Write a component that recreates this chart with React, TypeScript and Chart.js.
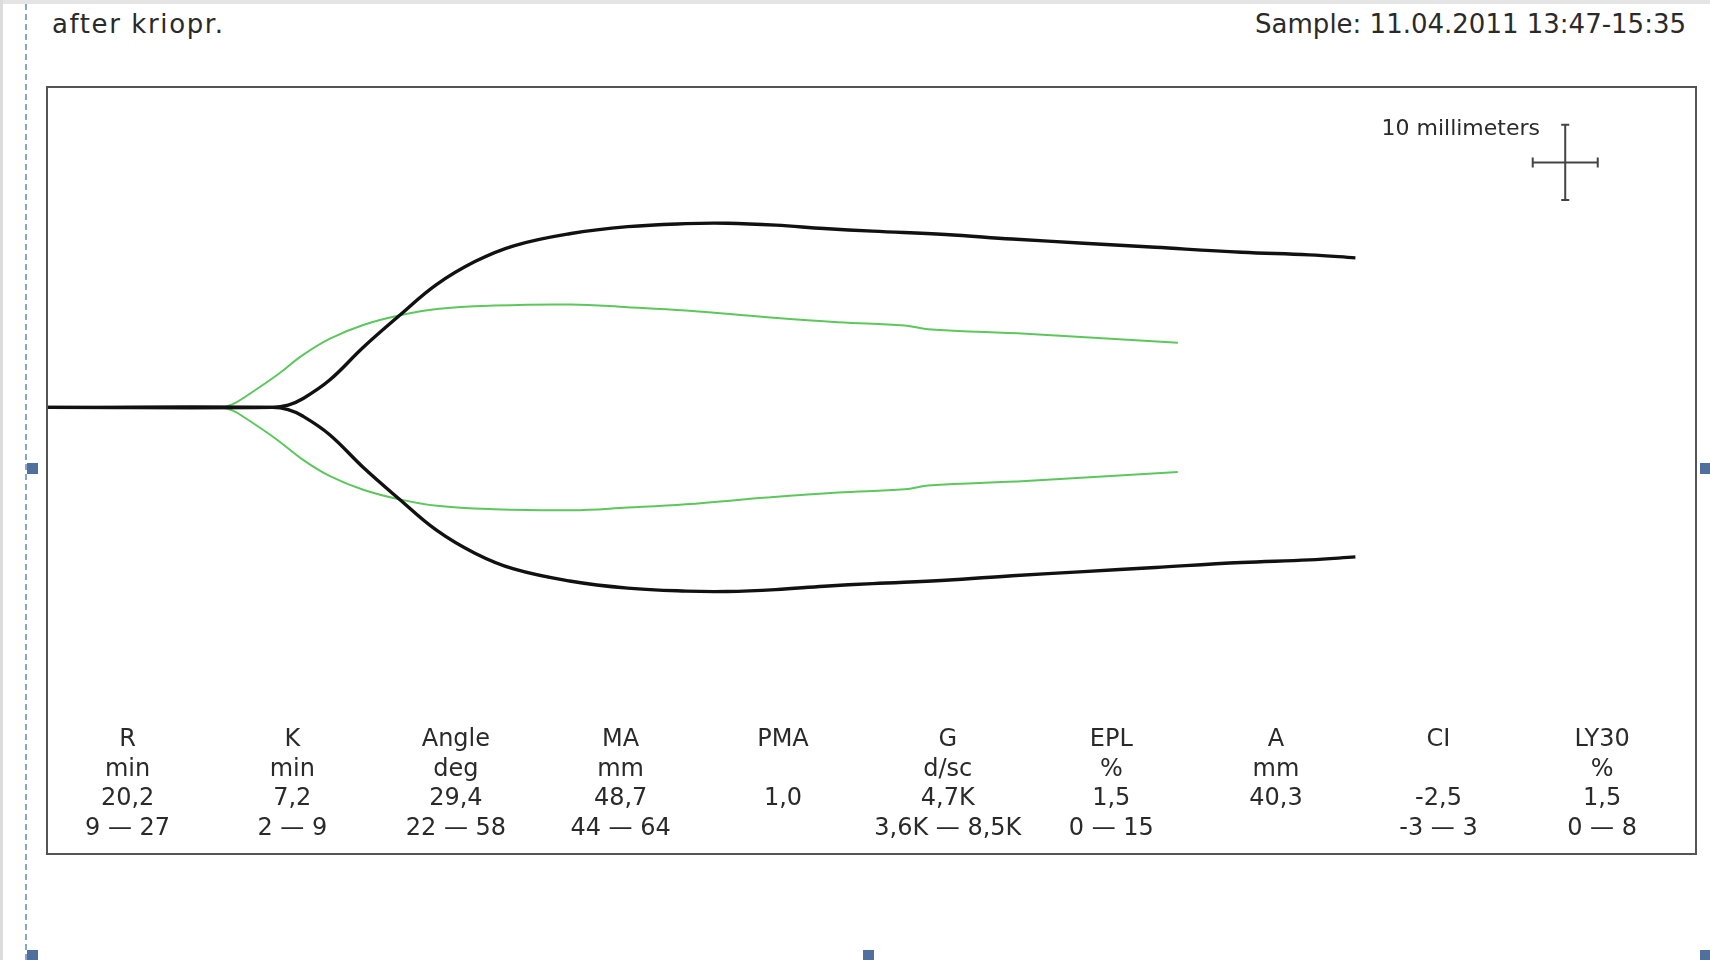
import React, { useEffect, useRef } from "react";
import { Chart, registerables } from "chart.js";

Chart.register(...registerables);

// Sample curve (black): time in minutes, total amplitude in mm
const blackTime = [0, 18.5, 19.8, 21, 23.2, 26, 29, 32, 35.2, 38.4, 43, 47.8, 52.6, 56, 60, 64, 68, 74, 79.5, 85.4, 91.3, 98.4, 104, 107.8];
const blackAmp = [0, 0, 0.6, 2.3, 7.2, 16.0, 24.5, 32.6, 38.8, 43.0, 46.2, 48.1, 48.9, 49.0, 48.5, 47.6, 46.9, 46.0, 44.8, 43.7, 42.6, 41.3, 40.6, 39.8];

// Reference curve (green)
const greenTime = [0, 14.2, 15.2, 16.3, 18.8, 21, 23.25, 26.05, 28.94, 32.07, 36.77, 43.12, 47.82, 52.6, 59.28, 65.13, 70.65, 72.55, 80.63, 87.63, 93.16];
const greenAmp = [0, 0, 0.8, 2.9, 8.4, 13.9, 18.3, 22.0, 24.45, 26.2, 27.1, 27.38, 26.66, 25.78, 24.0, 22.67, 21.8, 20.8, 19.59, 18.26, 17.17];

// Parameter table
const paramNames = ["R", "K", "Angle", "MA", "PMA", "G", "EPL", "A", "CI", "LY30"];
const paramUnits = ["min", "min", "deg", "mm", "", "d/sc", "%", "mm", "", "%"];
const paramValues = ["20,2", "7,2", "29,4", "48,7", "1,0", "4,7K", "1,5", "40,3", "-2,5", "1,5"];
const paramRanges = ["9 — 27", "2 — 9", "22 — 58", "44 — 64", "", "3,6K — 8,5K", "0 — 15", "", "-3 — 3", "0 — 8"];

const titleText = "after kriopr.";
const sampleText = "Sample: 11.04.2011 13:47-15:35";
const scaleLabel = "10 millimeters";

// axis ranges (minutes / mm)
const xMin = 0;
const xMax = 135.8;
const yMin = -59.3;
const yMax = 42.5;

// scale cross (in data units)
const crossT = 125.1;
const crossMm = 32.6;
const crossLenMm = 10;
const crossHalfT = 2.68;

const FONT = "'DejaVu Sans', Verdana, sans-serif";

function upper(t: number[], a: number[]) {
  return t.map((x, i) => ({ x, y: a[i] / 2 }));
}
function lower(t: number[], a: number[]) {
  return t.map((x, i) => ({ x, y: -a[i] / 2 }));
}

const crossPlugin = {
  id: "scaleCross",
  afterDatasetsDraw(chart: any) {
    const { ctx, scales } = chart;
    const xs = scales.x;
    const ys = scales.y;
    const cx = xs.getPixelForValue(crossT);
    const cy = ys.getPixelForValue(crossMm);
    const yTop = ys.getPixelForValue(crossMm + crossLenMm / 2);
    const yBot = ys.getPixelForValue(crossMm - crossLenMm / 2);
    const xL = xs.getPixelForValue(crossT - crossHalfT);
    const xR = xs.getPixelForValue(crossT + crossHalfT);
    ctx.save();
    ctx.strokeStyle = "#444";
    ctx.lineWidth = 2;
    ctx.beginPath();
    ctx.moveTo(cx, yTop);
    ctx.lineTo(cx, yBot);
    ctx.moveTo(cx - 4, yTop);
    ctx.lineTo(cx + 4, yTop);
    ctx.moveTo(cx - 4, yBot);
    ctx.lineTo(cx + 4, yBot);
    ctx.moveTo(xL, cy);
    ctx.lineTo(xR, cy);
    ctx.moveTo(xL, cy - 5);
    ctx.lineTo(xL, cy + 5);
    ctx.moveTo(xR, cy - 5);
    ctx.lineTo(xR, cy + 5);
    ctx.stroke();
    ctx.restore();
  },
};

function TegChart() {
  const ref = useRef<HTMLCanvasElement | null>(null);
  useEffect(() => {
    if (!ref.current) return;
    const black = "#111111";
    const green = "#5cc85c";
    const common = {
      fill: false,
      pointRadius: 0,
      tension: 0.4,
    };
    const chart = new Chart(ref.current, {
      type: "line",
      data: {
        datasets: [
          { ...common, label: "sample+", data: upper(blackTime, blackAmp), borderColor: black, borderWidth: 3.4, order: 0 },
          { ...common, label: "sample-", data: lower(blackTime, blackAmp), borderColor: black, borderWidth: 3.4, order: 0 },
          { ...common, label: "ref+", data: upper(greenTime, greenAmp), borderColor: green, borderWidth: 2, order: 1 },
          { ...common, label: "ref-", data: lower(greenTime, greenAmp), borderColor: green, borderWidth: 2, order: 1 },
        ],
      },
      options: {
        animation: false,
        responsive: true,
        maintainAspectRatio: false,
        layout: { padding: 0 },
        plugins: { legend: { display: false }, tooltip: { enabled: false } },
        scales: {
          x: { type: "linear", min: xMin, max: xMax, display: false },
          y: { type: "linear", min: yMin, max: yMax, display: false },
        },
      },
      plugins: [crossPlugin],
    });
    return () => chart.destroy();
  }, []);
  return <canvas ref={ref} />;
}

const colCenters = [127.6, 292.3, 455.9, 620.6, 783, 947.8, 1111.3, 1276, 1438.5, 1602.1];

export default function App() {
  const handle = (left: number, top: number) => (
    <div style={{ position: "absolute", left, top, width: 11, height: 11, background: "#4f6f9c" }} />
  );
  return (
    <div style={{ position: "fixed", left: 0, top: 0, width: 1710, height: 960, background: "#fff", overflow: "hidden", fontFamily: FONT, color: "#2a2a2a" }}>
      <div style={{ position: "absolute", left: 0, top: 0, width: 1710, height: 4, background: "#e4e4e4" }} />
      <div style={{ position: "absolute", left: 0, top: 0, width: 3, height: 960, background: "#dcdcdc" }} />
      <div style={{ position: "absolute", left: 25, top: 4, width: 0, height: 956, borderLeft: "2px dashed #8aa6cc" }} />
      {handle(27, 463)}
      {handle(1700, 463)}
      {handle(27, 950)}
      {handle(863, 950)}
      {handle(1700, 950)}
      <div style={{ position: "absolute", left: 52, top: 9, fontSize: 26, lineHeight: "30px", letterSpacing: 1.6, whiteSpace: "nowrap" }}>{titleText}</div>
      <div style={{ position: "absolute", right: 1710 - 1686, top: 9, fontSize: 26, lineHeight: "30px", whiteSpace: "nowrap" }}>{sampleText}</div>
      <div style={{ position: "absolute", left: 46, top: 86, width: 1651, height: 769, boxSizing: "border-box", border: "2px solid #555" }}>
        <div style={{ position: "relative", width: 1647, height: 765 }}>
          <TegChart />
        </div>
      </div>
      <div style={{ position: "absolute", right: 1710 - 1540, top: 114, fontSize: 22, lineHeight: "28px", whiteSpace: "nowrap" }}>{scaleLabel}</div>
      {paramNames.map((n, i) => (
        <div key={n} style={{ position: "absolute", left: colCenters[i] - 100, width: 200, top: 724, textAlign: "center", fontSize: 24, lineHeight: "29.7px", whiteSpace: "nowrap" }}>
          <div>{n}</div>
          <div>{paramUnits[i] || "\u00a0"}</div>
          <div>{paramValues[i]}</div>
          <div>{paramRanges[i] || "\u00a0"}</div>
        </div>
      ))}
    </div>
  );
}
